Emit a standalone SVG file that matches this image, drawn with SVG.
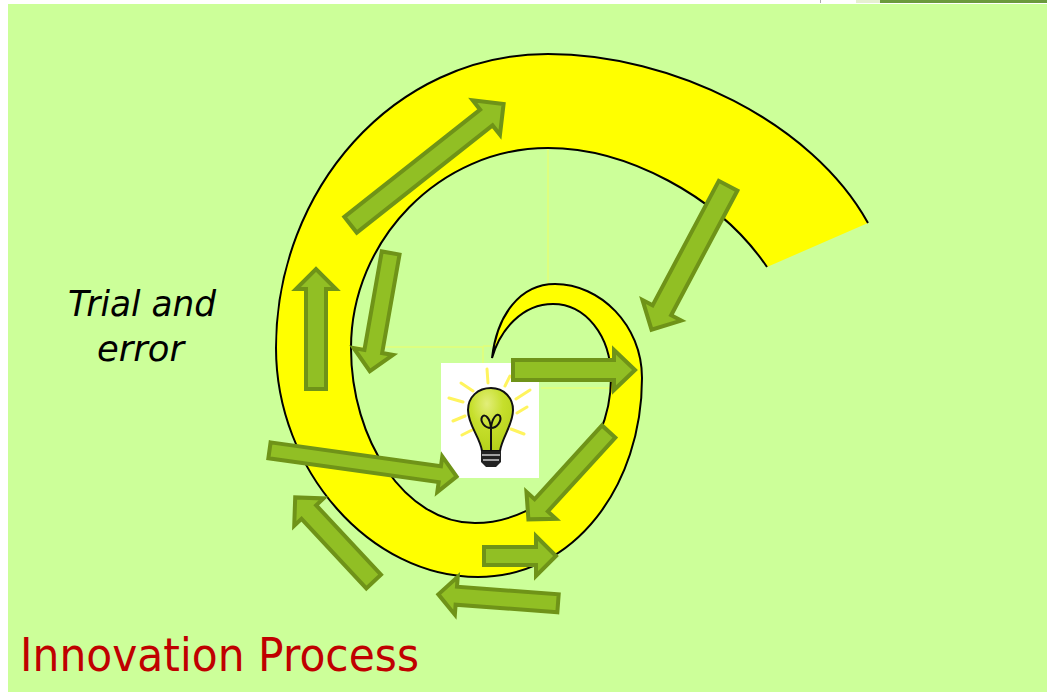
<svg xmlns="http://www.w3.org/2000/svg" width="1047" height="692" viewBox="0 0 1047 692">
<defs>
<radialGradient id="glass" cx="0.42" cy="0.25" r="0.8">
<stop offset="0" stop-color="#E2EE7A"/>
<stop offset="0.45" stop-color="#C6DF2C"/>
<stop offset="1" stop-color="#B4D018"/>
</radialGradient>
</defs>
<style>
.arrow{fill:#91BF24;stroke:#6F9318;stroke-width:4;stroke-linejoin:miter;stroke-miterlimit:10}
.guide{stroke:#EEFF66;stroke-width:1;fill:none}
.ray{stroke:#FFF45E;stroke-width:3;stroke-linecap:round;fill:none}
.lamp{stroke:#111;fill:none}
.band{fill:none;stroke:#000;stroke-width:2}
text{font-family:"DejaVu Sans","Liberation Sans",sans-serif}
</style>
<rect width="1047" height="692" fill="#fff"/>
<rect x="8" y="4" width="1039" height="688" fill="#CCFF99"/>
<rect x="820" y="0" width="1" height="3" fill="#aaa"/>
<rect x="856" y="0" width="24" height="3" fill="#E6F0D0"/>
<rect x="880" y="0" width="167" height="3" fill="#6A9A3C"/>
<g id="guides">
<path class="guide" d="M276 347H483V363M483 346H492M548 148V284M541 388H642"/>
</g>
<g id="spiral">
<path d="M868 223C812 122 672 54 548 54C393 54 276 190 276 348C276 470 370 577 478 577C575 577 642 485 642 378C642 325 600 284 555 284C520 284 497 315 492 358C500 330 522 304 553 304C585 304 611 335 611 378C611 455 545 523 475 523C405 523 351 440 351 348C351 240 440 148 548 148C625 148 718 195 767 267Z" fill="#FFFF00"/>
<path class="band" d="M868 223C812 122 672 54 548 54C393 54 276 190 276 348C276 470 370 577 478 577C575 577 642 485 642 378C642 325 600 284 555 284C520 284 497 315 492 358C500 330 522 304 553 304C585 304 611 335 611 378C611 455 545 523 475 523C405 523 351 440 351 348C351 240 440 148 548 148C625 148 718 195 767 267"/>
</g>
<g id="bulb">
<rect x="441" y="363" width="98" height="115" fill="#fff"/>
<path class="ray" d="M487 369L488 383M461 383L473 391M449 398L463 402M453 421L465 416M462 435L472 430M510 376L505 386M530 390L516 399M527 407L517 413M524 434L511 429"/>
<path d="M482 451C480 437 468 425 468 410C468 397 478 388 491 388C504 388 513 398 513 410C513 425 502 437 500 451Z" fill="url(#glass)" stroke="#111" stroke-width="2"/>
<path class="lamp" stroke-width="2" d="M491 451V428M491 428C484 428 480 421 482 417C485 413 490 418 491 428C492 418 497 412 500 416C502 421 497 428 491 428"/>
<path d="M481 451H501V462L496 467H486L481 462Z" fill="#222"/>
<path d="M482 455H500M483 460H499" stroke="#ccc" stroke-width="1.4"/>
</g>
<g id="connectors">
<polygon class="arrow" transform="translate(349 226) rotate(-38.3)" points="2,-10 175,-10 175,-22 197,0 175,22 175,10 2,10"/>
<polygon class="arrow" transform="translate(729 184) rotate(118)" points="2,-10.5 143,-10.5 143,-22 165,0 143,22 143,10.5 2,10.5"/>
<polygon class="arrow" transform="translate(316 391) rotate(-90)" points="2,-10 102,-10 102,-20 122,0 102,20 102,10 2,10"/>
<polygon class="arrow" transform="translate(391 251) rotate(100)" points="2,-9 102,-9 102,-20 122,0 102,20 102,9 2,9"/>
<polygon class="arrow" transform="translate(511 370) rotate(0)" points="2,-10 103,-10 103,-20 124,0 103,20 103,10 2,10"/>
<polygon class="arrow" transform="translate(267.5 450) rotate(8)" points="2,-8 174,-8 174,-18 191,0 174,18 174,8 2,8"/>
<polygon class="arrow" transform="translate(610 430) rotate(132.4)" points="2,-9 102,-9 102,-20 121,0 102,20 102,9 2,9"/>
<polygon class="arrow" transform="translate(482 556) rotate(0)" points="2,-9 54,-9 54,-20 74,0 54,20 54,9 2,9"/>
<polygon class="arrow" transform="translate(560 603.5) rotate(184.3)" points="2,-9 104,-9 104,-19 122,0 104,19 104,9 2,9"/>
<polygon class="arrow" transform="translate(375 583) rotate(227)" points="2,-10 97,-10 97,-20 117,0 97,20 97,10 2,10"/>
</g>
<g id="labels">
<text x="68" y="316" font-size="36" font-style="italic" textLength="148" lengthAdjust="spacingAndGlyphs" fill="#000">Trial and</text>
<text x="97" y="361" font-size="36" font-style="italic" textLength="87" lengthAdjust="spacingAndGlyphs" fill="#000">error</text>
<text x="20" y="671" font-size="46" textLength="399" lengthAdjust="spacingAndGlyphs" fill="#C00000">Innovation Process</text>
</g>
</svg>
